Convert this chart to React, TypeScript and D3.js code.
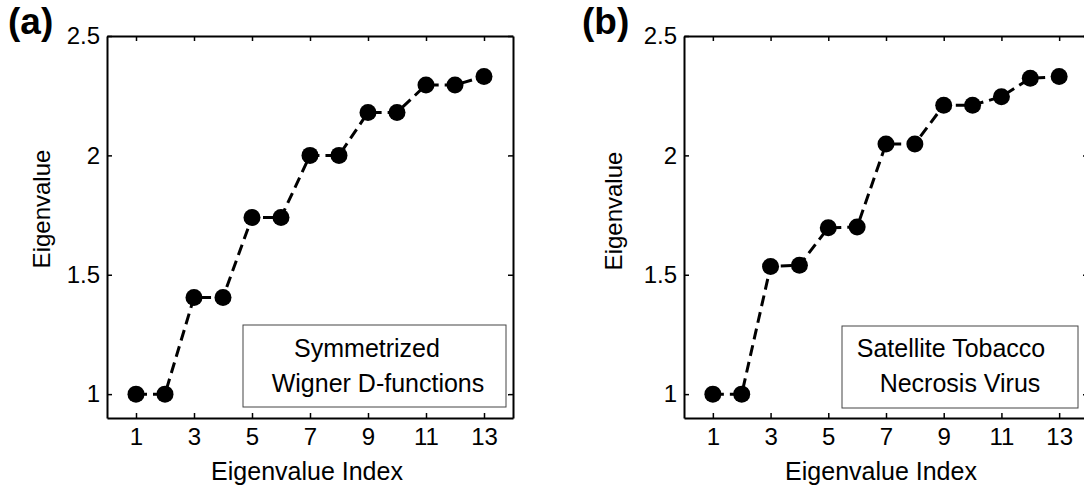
import React, { useEffect, useRef } from 'react';
import * as d3 from 'd3';

// data
const indices = [1, 2, 3, 4, 5, 6, 7, 8, 9, 10, 11, 12, 13];
const wignerValues = [1.0, 1.0, 1.405, 1.405, 1.74, 1.74, 2.0, 2.0, 2.18, 2.18, 2.295, 2.295, 2.33];
const stnvValues = [1.0, 1.0, 1.535, 1.54, 1.697, 1.7, 2.048, 2.048, 2.21, 2.21, 2.246, 2.323, 2.33];
const xTicks = [1, 3, 5, 7, 9, 11, 13];
const yTicks = [1, 1.5, 2, 2.5];
const xDomain = [0, 14];
const yDomain = [0.9, 2.5];

const FONT = "'Liberation Sans', Arial, Helvetica, sans-serif";
const top = 36;
const bottom = 418;

const panels = [
    {
        letter: '(a)', letterX: 8, values: wignerValues,
        legend: ['Symmetrized', 'Wigner D-functions'], legendCx: [367, 378],
        box: { x0: 243, x1: 506, y0: 325, y1: 407 },
        left: 107, right: 513, yLabelX: 50, yLabelY: 209, xLabelX: 307
    },
    {
        letter: '(b)', letterX: 582, values: stnvValues,
        legend: ['Satellite Tobacco', 'Necrosis Virus'], legendCx: [951, 960],
        box: { x0: 842, x1: 1078, y0: 326, y1: 408 },
        left: 684, right: 1088, yLabelX: 622, yLabelY: 211, xLabelX: 881
    }
];

export default function App() {
    const ref = useRef<SVGSVGElement>(null);

    useEffect(() => {
        const svg = d3.select(ref.current);
        svg.selectAll('*').remove();

        panels.forEach(p => {
            const x = d3.scaleLinear().domain(xDomain).range([p.left, p.right]);
            const y = d3.scaleLinear().domain(yDomain).range([bottom, top]);
            const g = svg.append('g');

            const styleAxis = (sel: any) => {
                sel.select('.domain').attr('stroke', '#000').attr('stroke-width', 2);
                sel.selectAll('.tick line').attr('stroke', '#000').attr('stroke-width', 1.5);
                sel.selectAll('.tick text')
                    .attr('fill', '#000')
                    .style('font-family', FONT)
                    .style('font-size', '24px');
            };

            g.append('g')
                .attr('transform', `translate(0,${bottom})`)
                .call(d3.axisBottom(x).tickValues(xTicks).tickSize(-5).tickSizeOuter(0).tickPadding(10).tickFormat(d => String(d)))
                .call(styleAxis);
            g.append('g')
                .attr('transform', `translate(0,${top})`)
                .call(d3.axisTop(x).tickValues(xTicks).tickSize(-5).tickSizeOuter(0).tickFormat(() => ''))
                .call(styleAxis);
            g.append('g')
                .attr('transform', `translate(${p.left},0)`)
                .call(d3.axisLeft(y).tickValues(yTicks).tickSize(-5).tickSizeOuter(0).tickPadding(7).tickFormat(d => String(d)))
                .call(styleAxis);
            g.append('g')
                .attr('transform', `translate(${p.right},0)`)
                .call(d3.axisRight(y).tickValues(yTicks).tickSize(-5).tickSizeOuter(0).tickFormat(() => ''))
                .call(styleAxis);

            // dashed connecting line + filled markers
            const line = d3.line<number>()
                .x((d, i) => x(indices[i]))
                .y(d => y(d));
            g.append('path')
                .datum(p.values)
                .attr('d', line)
                .attr('fill', 'none')
                .attr('stroke', '#000')
                .attr('stroke-width', 3)
                .attr('stroke-dasharray', '11,6');
            g.selectAll('circle.pt')
                .data(p.values)
                .enter()
                .append('circle')
                .attr('class', 'pt')
                .attr('cx', (d, i) => x(indices[i]))
                .attr('cy', d => y(d))
                .attr('r', 8.5)
                .attr('fill', '#000');

            // legend box
            g.append('rect')
                .attr('x', p.box.x0)
                .attr('y', p.box.y0)
                .attr('width', p.box.x1 - p.box.x0)
                .attr('height', p.box.y1 - p.box.y0)
                .attr('fill', '#fff')
                .attr('stroke', '#444')
                .attr('stroke-width', 1);
            p.legend.forEach((t, i) => {
                g.append('text')
                    .attr('x', p.legendCx[i])
                    .attr('y', 357 + i * 35)
                    .attr('text-anchor', 'middle')
                    .style('font-family', FONT)
                    .style('font-size', '25px')
                    .text(t);
            });

            // axis labels
            g.append('text')
                .attr('transform', `translate(${p.yLabelX},${p.yLabelY}) rotate(-90)`)
                .attr('text-anchor', 'middle')
                .style('font-family', FONT)
                .style('font-size', '24px')
                .text('Eigenvalue');
            g.append('text')
                .attr('x', p.xLabelX)
                .attr('y', 480)
                .attr('text-anchor', 'middle')
                .style('font-family', FONT)
                .style('font-size', '25px')
                .text('Eigenvalue Index');

            // panel letter
            g.append('text')
                .attr('x', p.letterX)
                .attr('y', 34)
                .style('font-family', FONT)
                .style('font-size', '37px')
                .style('font-weight', 'bold')
                .text(p.letter);
        });
    }, []);

    return (
        <svg
            ref={ref}
            width={1084}
            height={490}
            style={{ position: 'absolute', left: 0, top: 0, display: 'block', background: '#fff' }}
        />
    );
}
